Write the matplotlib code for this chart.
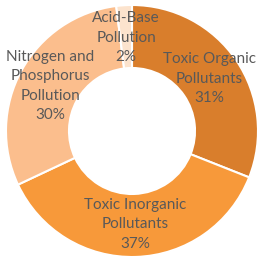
import numpy as np
import matplotlib.pyplot as plt

categories = ["Toxic Organic\nPollutants", "Toxic Inorganic\nPollutants",
              "Nitrogen and\nPhosphorus\nPollution", "Acid-Base\nPollution"]
values = [31, 37, 30, 2]
colors = ["#D97E2C", "#F7993A", "#FBBE8D", "#FCE3CD"]

fig = plt.figure(figsize=(2.63, 2.64), dpi=100)
ax = fig.add_axes([0, 0, 1, 1])

wedges, _ = ax.pie(values, colors=colors, startangle=90, counterclock=False,
                   radius=1.0, wedgeprops=dict(width=0.5, edgecolor='white', linewidth=1.5))

cx, cy, R = 132, 131, 126
ax.set_xlim((0 - cx) / R, (263 - cx) / R)
ax.set_ylim((cy - 264) / R, cy / R)
ax.set_aspect('auto')
ax.axis('off')

total = sum(values)
for w, cat, v in zip(wedges, categories, values):
    ang = np.deg2rad((w.theta1 + w.theta2) / 2)
    r = 0.74
    ax.text(r * np.cos(ang), r * np.sin(ang), f"{cat}\n{round(100 * v / total)}%",
            ha='center', va='center', fontsize=11, color='#595959',
            family='Lato', linespacing=1.5)

fig.savefig("out.png", dpi=100)
